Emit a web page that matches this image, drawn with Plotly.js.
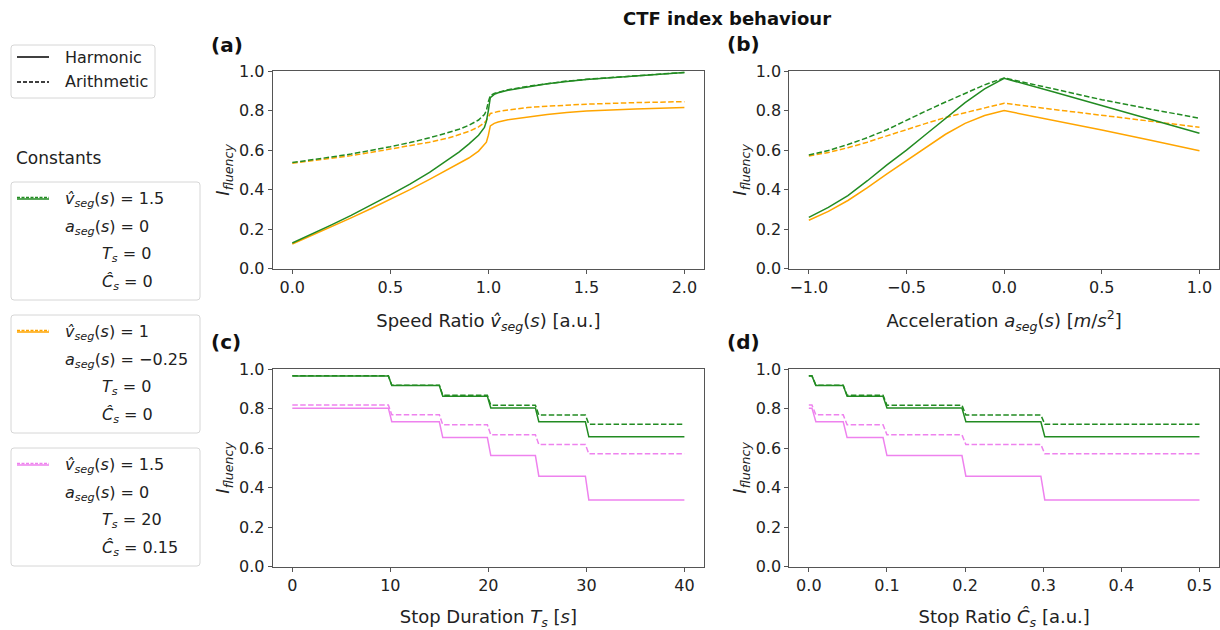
<!DOCTYPE html>
<html>
<head>
<meta charset="utf-8">
<script src="https://cdn.plot.ly/plotly-3.0.1.min.js"></script>
<style>html,body{margin:0;padding:0;background:#fff}#chart{width:1220px;height:630px}</style>
</head>
<body>
<div id="chart"></div>
<script>
// ---------- data ----------
// (a) Speed ratio
const speedRatio      = [0, 0.1, 0.2, 0.3, 0.4, 0.5, 0.6, 0.7, 0.8, 0.85, 0.9, 0.95, 0.98, 0.99, 1.0, 1.01, 1.03, 1.05, 1.1, 1.2, 1.3, 1.4, 1.5, 1.75, 2.0];
const speedGreenHarm  = [0.13, 0.175, 0.222, 0.27, 0.32, 0.373, 0.428, 0.487, 0.555, 0.59, 0.63, 0.675, 0.715, 0.745, 0.80, 0.865, 0.882, 0.89, 0.903, 0.92, 0.935, 0.947, 0.957, 0.975, 0.992];
const speedGreenArith = [0.537, 0.55, 0.565, 0.58, 0.597, 0.617, 0.638, 0.662, 0.69, 0.705, 0.725, 0.752, 0.78, 0.80, 0.845, 0.875, 0.887, 0.893, 0.905, 0.922, 0.937, 0.949, 0.958, 0.977, 0.993];
const speedOrangeHarm = [0.125, 0.168, 0.212, 0.257, 0.303, 0.351, 0.40, 0.452, 0.505, 0.53, 0.56, 0.595, 0.625, 0.64, 0.675, 0.722, 0.735, 0.742, 0.753, 0.768, 0.78, 0.79, 0.798, 0.808, 0.816];
const speedOrangeArith= [0.533, 0.545, 0.558, 0.572, 0.588, 0.605, 0.622, 0.64, 0.662, 0.676, 0.694, 0.717, 0.738, 0.75, 0.77, 0.785, 0.79, 0.795, 0.803, 0.815, 0.822, 0.828, 0.832, 0.84, 0.845];

// (b) Acceleration
const accel          = [-1.0, -0.9, -0.8, -0.7, -0.6, -0.5, -0.4, -0.3, -0.2, -0.1, 0.0, 0.25, 0.5, 0.75, 1.0];
const accGreenHarm   = [0.26, 0.31, 0.37, 0.445, 0.525, 0.60, 0.68, 0.76, 0.84, 0.91, 0.963, 0.895, 0.824, 0.755, 0.685];
const accGreenArith  = [0.575, 0.598, 0.628, 0.663, 0.703, 0.752, 0.798, 0.843, 0.887, 0.93, 0.965, 0.91, 0.855, 0.807, 0.761];
const accOrangeHarm  = [0.245, 0.29, 0.345, 0.41, 0.48, 0.546, 0.615, 0.68, 0.735, 0.775, 0.80, 0.752, 0.702, 0.65, 0.597];
const accOrangeArith = [0.57, 0.588, 0.612, 0.64, 0.672, 0.705, 0.735, 0.765, 0.79, 0.815, 0.837, 0.806, 0.777, 0.746, 0.715];

// (c) Stop duration: step positions
const durStart = 0, durEnd = 40, durRamp = 0.35;
const durSteps = [9.8, 15.0, 19.9, 24.8, 29.9];
// (d) Stop ratio: step positions
const ratioStart = 0, ratioEnd = 0.5, ratioRamp = 0.005;
const ratioSteps = [0.004, 0.044, 0.095, 0.196, 0.297];
// levels shared by (c) and (d)
const stepGreenHarm   = [0.965, 0.917, 0.862, 0.803, 0.733, 0.657];
const stepGreenArith  = [0.966, 0.918, 0.867, 0.817, 0.767, 0.721];
const stepPinkHarm    = [0.802, 0.733, 0.653, 0.562, 0.458, 0.338];
const stepPinkArith   = [0.818, 0.768, 0.718, 0.667, 0.618, 0.571];

// tick labels
const yTicks = [0, 0.2, 0.4, 0.6, 0.8, 1.0];
const xTicksA = [0, 0.5, 1.0, 1.5, 2.0];
const xTicksB = [-1.0, -0.5, 0, 0.5, 1.0];
const xTicksC = [0, 10, 20, 30, 40];
const xTicksD = [0, 0.1, 0.2, 0.3, 0.4, 0.5];

// ---------- styling ----------
const GREEN = '#228b22', ORANGE = '#ffa500', PINK = '#ee82ee';
const FONT = 'DejaVu Sans, Verdana, sans-serif';
const W = 1220, H = 630;
const px = x => x / W, py = y => 1 - y / H;
const DASH = '5.5px,2.4px';

function stepXY(start, end, steps, ramp, levels) {
  const x = [start], y = [levels[0]];
  steps.forEach((s, i) => {
    x.push(s); y.push(levels[i]);
    x.push(s + ramp); y.push(levels[i + 1]);
  });
  x.push(end); y.push(levels[levels.length - 1]);
  return {x, y};
}

function line(x, y, color, dashed, ax) {
  return {
    x, y, type: 'scatter', mode: 'lines',
    xaxis: 'x' + ax, yaxis: 'y' + ax,
    line: {color, width: 1.5, dash: dashed ? DASH : 'solid'},
    showlegend: false, hoverinfo: 'skip'
  };
}

const traces = [
  line(speedRatio, speedOrangeHarm, ORANGE, false, ''),
  line(speedRatio, speedOrangeArith, ORANGE, true, ''),
  line(speedRatio, speedGreenHarm, GREEN, false, ''),
  line(speedRatio, speedGreenArith, GREEN, true, ''),
  line(accel, accOrangeHarm, ORANGE, false, '2'),
  line(accel, accOrangeArith, ORANGE, true, '2'),
  line(accel, accGreenHarm, GREEN, false, '2'),
  line(accel, accGreenArith, GREEN, true, '2'),
];
[[stepPinkHarm, PINK, false], [stepPinkArith, PINK, true], [stepGreenHarm, GREEN, false], [stepGreenArith, GREEN, true]].forEach(([lv, c, d]) => {
  const a = stepXY(durStart, durEnd, durSteps, durRamp, lv);
  traces.push(line(a.x, a.y, c, d, '3'));
  const b = stepXY(ratioStart, ratioEnd, ratioSteps, ratioRamp, lv);
  traces.push(line(b.x, b.y, c, d, '4'));
});

const tickFont = {family: FONT, size: 16, color: '#222'};
const titleFont = {family: FONT, size: 18, color: '#222'};
function xax(domain, range, tickvals, fmt, title, anchor) {
  return {
    domain, range, tickvals, tickformat: fmt, anchor,
    showgrid: false, zeroline: false, showline: true, mirror: true,
    linecolor: '#555', linewidth: 1, ticks: 'outside', ticklen: 4, tickcolor: '#555',
    tickfont: tickFont, title: {text: title, font: titleFont, standoff: 18}, automargin: false
  };
}
function yax(domain, anchor) {
  return {
    domain, range: [0, 1], tickvals: yTicks, tickformat: '.1f', anchor,
    showgrid: false, zeroline: false, showline: true, mirror: true,
    linecolor: '#555', linewidth: 1, ticks: 'outside', ticklen: 4, tickcolor: '#555',
    tickfont: tickFont, title: {text: '<i>I</i><sub><i>fluency</i></sub>', font: titleFont, standoff: 4}, automargin: false
  };
}

const dxA = [px(272.7), px(704)], dxB = [px(789.3), px(1219)];
const dyTop = [py(268.7), py(71)], dyBot = [py(566.7), py(369)];

// ---------- legend (drawn with shapes + annotations) ----------
function roundRect(x0, y0, x1, y1, r) {
  const X = v => px(v), Y = v => py(v);
  return {
    type: 'path', xref: 'paper', yref: 'paper',
    path: `M ${X(x0 + r)},${Y(y0)} L ${X(x1 - r)},${Y(y0)} Q ${X(x1)},${Y(y0)} ${X(x1)},${Y(y0 + r)} ` +
          `L ${X(x1)},${Y(y1 - r)} Q ${X(x1)},${Y(y1)} ${X(x1 - r)},${Y(y1)} L ${X(x0 + r)},${Y(y1)} ` +
          `Q ${X(x0)},${Y(y1)} ${X(x0)},${Y(y1 - r)} L ${X(x0)},${Y(y0 + r)} Q ${X(x0)},${Y(y0)} ${X(x0 + r)},${Y(y0)} Z`,
    line: {color: '#d6d6d6', width: 1}, fillcolor: 'rgba(255,255,255,0.8)', layer: 'above'
  };
}
function seg(x0, x1, y, color, dash) {
  return {type: 'line', xref: 'paper', yref: 'paper', x0: px(x0), x1: px(x1), y0: py(y), y1: py(y),
          line: {color, width: 1.5, dash}, layer: 'above'};
}
function txt(x, y, text, opts) {
  return Object.assign({xref: 'paper', yref: 'paper', x: px(x), y: py(y), text, showarrow: false,
    xanchor: 'left', yanchor: 'middle', font: {family: FONT, size: 16, color: '#222'}}, opts || {});
}

const legendLabels = ['Harmonic', 'Arithmetic'];
const constantGroups = [
  {color: GREEN, lines: ['<i>v̂</i><sub><i>seg</i></sub>(<i>s</i>) = 1.5', '<i>a</i><sub><i>seg</i></sub>(<i>s</i>) = 0', '<i>T</i><sub><i>s</i></sub> = 0', '<i>Ĉ</i><sub><i>s</i></sub> = 0']},
  {color: ORANGE, lines: ['<i>v̂</i><sub><i>seg</i></sub>(<i>s</i>) = 1', '<i>a</i><sub><i>seg</i></sub>(<i>s</i>) = −0.25', '<i>T</i><sub><i>s</i></sub> = 0', '<i>Ĉ</i><sub><i>s</i></sub> = 0']},
  {color: PINK, lines: ['<i>v̂</i><sub><i>seg</i></sub>(<i>s</i>) = 1.5', '<i>a</i><sub><i>seg</i></sub>(<i>s</i>) = 0', '<i>T</i><sub><i>s</i></sub> = 20', '<i>Ĉ</i><sub><i>s</i></sub> = 0.15']},
];

const shapes = [roundRect(11, 45, 155, 98, 3)];
shapes.push(seg(17, 49, 57, '#000', 'solid'));
shapes.push(seg(17, 49, 82, '#000', '4px,2px'));
const annotations = [
  txt(63, 57, legendLabels[0]),
  txt(63, 82, legendLabels[1]),
  txt(14, 158, 'Constants', {font: {family: FONT, size: 17, color: '#222'}}),
];
const boxTops = [182, 315, 448];
constantGroups.forEach((g, i) => {
  const t = boxTops[i];
  shapes.push(roundRect(11, t, 200, t + 118, 3));
  shapes.push(seg(17, 49, t + 17, g.color, 'solid'));
  shapes.push(seg(17, 49, t + 15.5, g.color, '3px,1.5px'));
  const offs = [17, 45, 72, 100];
  const xs = [63, 63, 100, 100];
  g.lines.forEach((l, k) => annotations.push(txt(xs[k], t + offs[k], l)));
});

// titles
annotations.push(txt(727, 18, '<b>CTF index behaviour</b>', {xanchor: 'center', font: {family: FONT, size: 18, color: '#111'}}));
[['(a)', 209, 45], ['(b)', 725, 44], ['(c)', 209, 342], ['(d)', 725, 342]].forEach(([t, x, y]) => {
  annotations.push(txt(x, y, '<b>' + t + '</b>', {font: {family: FONT, size: 20, color: '#111'}}));
});

const layout = {
  width: W, height: H, margin: {l: 0, r: 0, t: 0, b: 0},
  paper_bgcolor: '#fff', plot_bgcolor: '#fff', showlegend: false,
  font: {family: FONT, color: '#222'},
  xaxis:  xax(dxA, [-0.1, 2.1], xTicksA, '.1f', 'Speed Ratio <i>v̂</i><sub><i>seg</i></sub>(<i>s</i>) [a.u.]', 'y'),
  yaxis:  yax(dyTop, 'x'),
  xaxis2: xax(dxB, [-1.1, 1.1], xTicksB, '.1f', 'Acceleration <i>a</i><sub><i>seg</i></sub>(<i>s</i>) [<i>m</i>/<i>s</i><sup>2</sup>]', 'y2'),
  yaxis2: yax(dyTop, 'x2'),
  xaxis3: xax(dxA, [-2, 42], xTicksC, 'd', 'Stop Duration <i>T</i><sub><i>s</i></sub> [<i>s</i>]', 'y3'),
  yaxis3: yax(dyBot, 'x3'),
  xaxis4: xax(dxB, [-0.025, 0.525], xTicksD, '.1f', 'Stop Ratio <i>Ĉ</i><sub><i>s</i></sub> [a.u.]', 'y4'),
  yaxis4: yax(dyBot, 'x4'),
  shapes, annotations
};

Plotly.newPlot('chart', traces, layout, {displayModeBar: false, staticPlot: true});
</script>
</body>
</html>
